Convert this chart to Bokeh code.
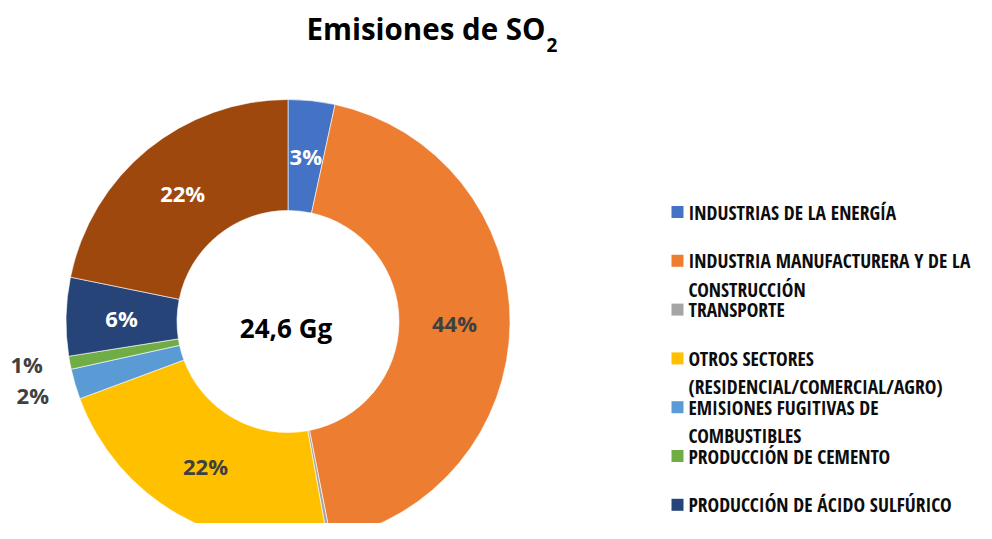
import math
from bokeh.plotting import figure
from bokeh.models import Range1d, ColumnDataSource
from bokeh.core.properties import value
from bokeh.embed import file_html
from bokeh.resources import INLINE

# ---------------- data ----------------
title_main = "Emisiones de SO"
title_sub = "2"
center_label = "24,6 Gg"
categories = [
    "INDUSTRIAS DE LA ENERGÍA",
    "INDUSTRIA MANUFACTURERA Y DE LA\nCONSTRUCCIÓN",
    "TRANSPORTE",
    "OTROS SECTORES\n(RESIDENCIAL/COMERCIAL/AGRO)",
    "EMISIONES FUGITIVAS DE\nCOMBUSTIBLES",
    "PRODUCCIÓN DE CEMENTO",
    "PRODUCCIÓN DE ÁCIDO SULFÚRICO",
    "",  # eighth category: legend entry not visible in the reference
]
shares = [3.4, 43.5, 0.25, 22.2, 2.2, 0.95, 5.7, 21.8]   # % of total
share_labels = ["3%", "44%", "", "22%", "2%", "1%", "6%", "22%"]

# ---------------- styles ----------------
colors = ["#4472C4", "#ED7D31", "#A5A5A5", "#FFC000", "#5B9BD5", "#70AD47", "#264478", "#9E480E"]
label_colors = ["white", "#404040", "#404040", "#404040", "#404040", "#404040", "white", "white"]

W, H = 976, 523
p = figure(width=W, height=H, output_backend="svg", toolbar_location=None,
           x_range=Range1d(0, W), y_range=Range1d(-H, 0),
           min_border=0, outline_line_color=None)
p.axis.visible = False
p.grid.visible = False
p.background_fill_color = "white"
p.border_fill_color = "white"

cx, cy = 287.5, -321.0
r_in, r_out = 111.0, 222.0

starts, ends, mids = [], [], []
cum = 0.0
for s in shares:
    a0 = math.pi / 2 - 2 * math.pi * cum / 100.0
    a1 = math.pi / 2 - 2 * math.pi * (cum + s) / 100.0
    starts.append(a0)
    ends.append(a1)
    mids.append((a0 + a1) / 2)
    cum += s

src = ColumnDataSource(dict(start=starts, end=ends, color=colors))
p.annular_wedge(x=cx, y=cy, inner_radius=r_in, outer_radius=r_out,
                start_angle="start", end_angle="end", direction="clock",
                fill_color="color", line_color="white", line_width=0.6, source=src)

# slice labels
inside, outside = [], []
for s, m, t, c in zip(shares, mids, share_labels, label_colors):
    if not t:
        continue
    if s >= 2.5:
        r = (r_in + r_out) / 2
        inside.append([cx + r * math.cos(m), cy + r * math.sin(m), t, c])
    else:
        r = 266.0
        outside.append([cx + r * math.cos(m), cy + r * math.sin(m) + 2, t, c])
# spread outside labels vertically so they do not collide
outside.sort(key=lambda a: a[1])  # lowest first
for k in range(1, len(outside)):
    if outside[k][1] - outside[k - 1][1] < 31:
        outside[k][1] = outside[k - 1][1] + 31
labels = inside + outside
p.text(x=[a[0] for a in labels], y=[a[1] for a in labels], text=[a[2] for a in labels],
       text_color=[a[3] for a in labels], text_align="center", text_baseline="middle",
       text_font=value("Open Sans"), text_font_style="bold", text_font_size="22px")

# center label
p.text(x=[cx - 2], y=[cy - 6], text=[center_label], text_align="center", text_baseline="middle",
       text_font=value("Open Sans"), text_font_style="bold", text_font_size="26px", text_color="black")

# title
p.text(x=[545], y=[-27.5], text=[title_main], text_align="right", text_baseline="middle",
       text_font=value("Open Sans"), text_font_style="bold", text_font_size="29.5px", text_color="black")
p.text(x=[546], y=[-44.5], text=[title_sub], text_align="left", text_baseline="middle",
       text_font=value("Open Sans"), text_font_style="bold", text_font_size="19px", text_color="black")

# legend (y = middle of capitals)
mid0, step, wrap = 211.5, 48.8, 28.5
sq_x, sq_y, sq_t, tx, ty, tt = [], [], [], [], [], []
for i, (cat, col) in enumerate(zip(categories, colors)):
    if not cat:
        continue
    b = mid0 + i * step
    sq_x.append(677)
    sq_y.append(-b)
    sq_t.append(col)
    for j, line in enumerate(cat.split("\n")):
        tx.append(688)
        ty.append(-(b + j * wrap))
        tt.append(line)
p.rect(x=sq_x, y=sq_y, width=12, height=12, width_units="screen", height_units="screen",
       fill_color=sq_t, line_color=None)
p.text(x=tx, y=ty, text=tt, text_align="left", text_baseline="middle",
       text_font=value("Open Sans Condensed"), text_font_style="bold", text_font_size="19.5px",
       text_color="#0D0D0D")

open("out.html", "w").write(file_html(p, INLINE))
